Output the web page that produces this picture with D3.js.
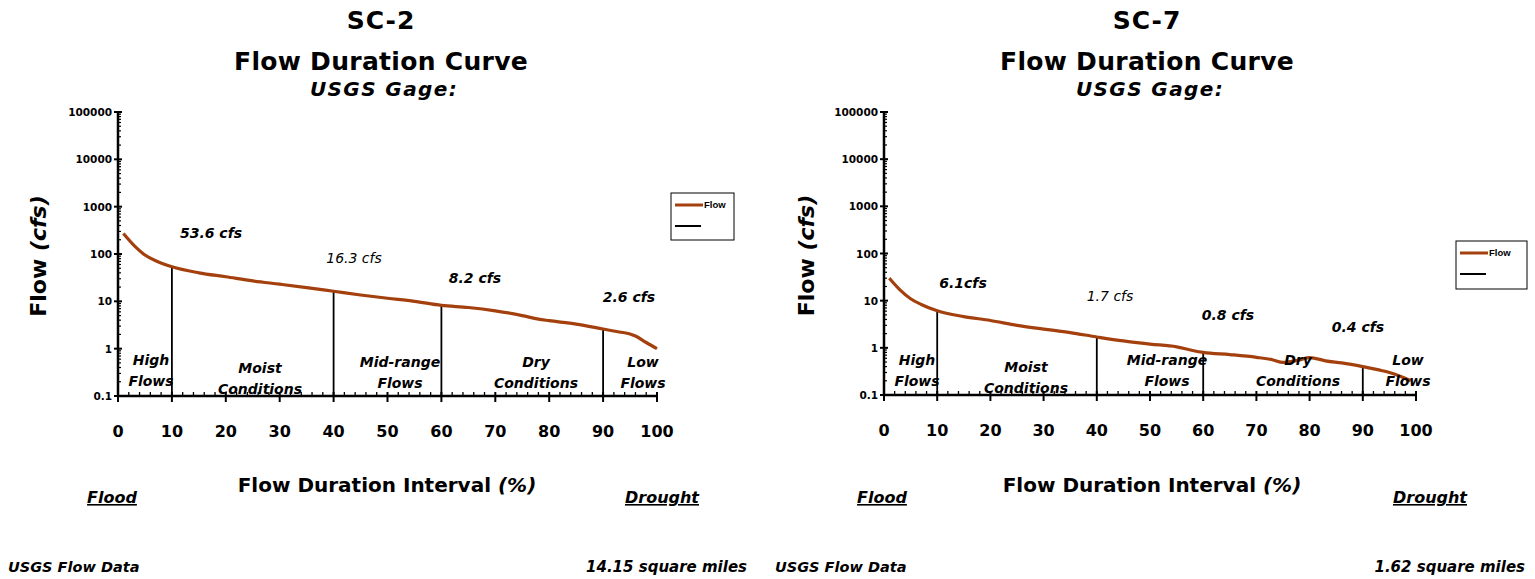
<!DOCTYPE html>
<html>
<head>
<meta charset="utf-8">
<script src="https://cdn.jsdelivr.net/npm/d3@7"></script>
<style>
  html, body { margin: 0; padding: 0; background: #fff; }
  svg { display: block; }
  text { font-family: "Comic Sans MS", "DejaVu Sans", sans-serif; fill: #000; }
  .legend-text { font-family: "Liberation Sans", Arial, sans-serif; }
</style>
</head>
<body>
<svg id="chart" width="1535" height="579"></svg>
<script>
// Flow duration percentiles (% of time flow is equalled or exceeded)
const sc2Pct  = [1, 3, 5, 7, 10, 15, 20, 25, 30, 35, 40, 45, 50, 55, 60, 65, 70, 75, 78, 80, 85, 90, 93, 95, 96, 98, 100];
const sc2Flow = [270, 150, 95, 72, 53.6, 40, 33, 27, 23, 19.5, 16.3, 13.6, 11.6, 10, 8.2, 7.4, 6.3, 5.0, 4.2, 3.9, 3.3, 2.6, 2.25, 2.05, 1.85, 1.35, 1.0];

const sc7Pct  = [1, 3, 5, 7, 10, 15, 20, 25, 30, 35, 40, 45, 50, 55, 58, 60, 65, 70, 73, 75, 78, 80, 81, 83, 86, 90, 93, 95, 97, 99];
const sc7Flow = [30, 17, 11, 8.3, 6.1, 4.6, 3.8, 3.0, 2.5, 2.1, 1.7, 1.4, 1.2, 1.05, 0.88, 0.8, 0.72, 0.63, 0.56, 0.49, 0.55, 0.62, 0.6, 0.53, 0.48, 0.4, 0.34, 0.3, 0.25, 0.2];

// Hydrologic zone boundaries and the flow at each boundary
const zoneBreaks = [10, 40, 60, 90];
const sc2BreakFlow = [53.6, 16.3, 8.2, 2.6];
const sc7BreakFlow = [6.1, 1.7, 0.8, 0.4];
const sc2BreakLabels = ["53.6 cfs", "16.3 cfs", "8.2 cfs", "2.6 cfs"];
const sc7BreakLabels = ["6.1cfs", "1.7 cfs", "0.8 cfs", "0.4 cfs"];

const zoneNames = [["High", "Flows"], ["Moist", "Conditions"], ["Mid-range", "Flows"], ["Dry", "Conditions"], ["Low", "Flows"]];

const yTicks = [0.1, 1, 10, 100, 1000, 10000, 100000];
const xTicks = [0, 10, 20, 30, 40, 50, 60, 70, 80, 90, 100];

const svg = d3.select("#chart");
const curveColor = "#a3400d";

function drawChart(cfg) {
  const x = d3.scaleLinear().domain([0, 100]).range([cfg.x0, cfg.x1]);
  const y = d3.scaleLog().domain([0.1, 100000]).range([cfg.y0, cfg.y1]);
  const g = svg.append("g");

  // Titles
  const cx = cfg.titleX;
  g.append("text").attr("x", cx).attr("y", 29).attr("text-anchor", "middle")
    .attr("font-size", 25).attr("font-weight", "bold").attr("letter-spacing", 1).text(cfg.site);
  g.append("text").attr("x", cx).attr("y", 70).attr("text-anchor", "middle")
    .attr("font-size", 25).attr("font-weight", "bold").attr("letter-spacing", 0.3).text("Flow Duration Curve");
  g.append("text").attr("x", cx + 3).attr("y", 96).attr("text-anchor", "middle")
    .attr("font-size", 20).attr("font-weight", "bold").attr("font-style", "italic")
    .attr("letter-spacing", 1.4).text("USGS Gage:");

  // Y axis: log scale with decade labels and minor ticks
  g.append("line").attr("x1", x(0)).attr("x2", x(0)).attr("y1", y(0.1)).attr("y2", y(100000))
    .attr("stroke", "#000").attr("stroke-width", 2.5);
  const minor = [];
  for (let e = -1; e < 5; e++) for (let m = 2; m <= 9; m++) minor.push(m * Math.pow(10, e));
  g.selectAll(".ymin").data(minor).join("line")
    .attr("x1", x(0)).attr("x2", x(0) + 3)
    .attr("y1", d => y(d)).attr("y2", d => y(d))
    .attr("stroke", "#000").attr("stroke-width", 1.2);
  g.selectAll(".ymaj").data(yTicks).join("line")
    .attr("x1", x(0) - 4).attr("x2", x(0) + 4)
    .attr("y1", d => y(d)).attr("y2", d => y(d))
    .attr("stroke", "#000").attr("stroke-width", 2);
  g.selectAll(".ylab").data(yTicks).join("text")
    .attr("x", x(0) - 6).attr("y", d => y(d) + 4).attr("text-anchor", "end")
    .attr("font-size", 10.5).attr("font-weight", "bold").text(d => d3.format("")(d));

  // X axis with major ticks below and minor ticks above
  g.append("line").attr("x1", x(0)).attr("x2", x(100)).attr("y1", y(0.1)).attr("y2", y(0.1))
    .attr("stroke", "#000").attr("stroke-width", 2.5);
  const xMinor = d3.range(2, 100, 2).filter(d => d % 10 !== 0);
  g.selectAll(".xmin").data(xMinor).join("line")
    .attr("x1", d => x(d)).attr("x2", d => x(d))
    .attr("y1", y(0.1)).attr("y2", y(0.1) - 4)
    .attr("stroke", "#000").attr("stroke-width", 1.3);
  g.selectAll(".xmaj").data(xTicks).join("line")
    .attr("x1", d => x(d)).attr("x2", d => x(d))
    .attr("y1", y(0.1) - 4).attr("y2", y(0.1) + 6)
    .attr("stroke", "#000").attr("stroke-width", 2);
  g.selectAll(".xlab").data(xTicks).join("text")
    .attr("x", d => x(d)).attr("y", y(0.1) + 41).attr("text-anchor", "middle")
    .attr("font-size", 16).attr("font-weight", "bold").text(d => d);

  // Zone boundary lines from the axis up to the curve
  g.selectAll(".brk").data(zoneBreaks).join("line")
    .attr("x1", d => x(d)).attr("x2", d => x(d))
    .attr("y1", y(0.1)).attr("y2", (d, i) => y(cfg.breakFlow[i]))
    .attr("stroke", "#000").attr("stroke-width", 1.8);

  // Flow duration curve
  const line = d3.line().x(d => x(d[0])).y(d => y(d[1])).curve(d3.curveMonotoneX);
  g.append("path").datum(d3.zip(cfg.pct, cfg.flow)).attr("d", line)
    .attr("fill", "none").attr("stroke", curveColor).attr("stroke-width", 3.2)
    .attr("stroke-linejoin", "round");

  // Boundary flow labels
  cfg.breakLabels.forEach((t, i) => {
    g.append("text").attr("x", cfg.labelPos[i][0]).attr("y", cfg.labelPos[i][1])
      .attr("text-anchor", "middle").attr("font-size", 14)
      .attr("font-weight", i === 1 ? "normal" : "bold").attr("font-style", "italic").text(t);
  });

  // Zone names
  zoneNames.forEach((nm, i) => {
    const p = cfg.zonePos[i];
    nm.forEach((w, j) => {
      g.append("text").attr("x", p[0]).attr("y", p[1] + j * 21)
        .attr("text-anchor", "middle").attr("font-size", 14)
        .attr("font-weight", "bold").attr("font-style", "italic").text(w);
    });
  });

  // Axis titles
  g.append("text").attr("transform", `translate(${cfg.yTitleX},${(y(0.1) + y(100000)) / 2 + 2}) rotate(-90)`)
    .attr("text-anchor", "middle").attr("font-size", 22).attr("font-weight", "bold")
    .html('Flow <tspan font-style="italic">(cfs)</tspan>');
  g.append("text").attr("x", cfg.xTitleX).attr("y", 492).attr("text-anchor", "middle")
    .attr("font-size", 20).attr("font-weight", "bold")
    .html('Flow Duration Interval <tspan font-style="italic">(%)</tspan>');

  // Flood / Drought markers
  [[cfg.floodX, "Flood"], [cfg.droughtX, "Drought"]].forEach(([px, t]) => {
    g.append("text").attr("x", px).attr("y", 503).attr("text-anchor", "middle")
      .attr("font-size", 16).attr("font-weight", "bold").attr("font-style", "italic")
      .attr("text-decoration", "underline").text(t);
  });

  // Footer notes
  g.append("text").attr("x", cfg.footL).attr("y", 572).attr("font-size", 14.5)
    .attr("font-weight", "bold").attr("font-style", "italic").text("USGS Flow Data");
  g.append("text").attr("x", cfg.footR).attr("y", 572).attr("text-anchor", "end").attr("font-size", 15)
    .attr("font-weight", "bold").attr("font-style", "italic").text(cfg.area);

  // Legend
  const L = cfg.legend;
  g.append("rect").attr("x", L[0]).attr("y", L[1]).attr("width", L[2]).attr("height", L[3])
    .attr("fill", "#fff").attr("stroke", "#000").attr("stroke-width", 1);
  g.append("line").attr("x1", L[0] + 4).attr("x2", L[0] + 32).attr("y1", L[1] + 12).attr("y2", L[1] + 12)
    .attr("stroke", curveColor).attr("stroke-width", 3);
  g.append("text").attr("class", "legend-text").attr("x", L[0] + 33).attr("y", L[1] + 15)
    .attr("font-size", 9.5).attr("font-weight", "bold").text("Flow");
  g.append("line").attr("x1", L[0] + 4).attr("x2", L[0] + 30).attr("y1", L[1] + 33).attr("y2", L[1] + 33)
    .attr("stroke", "#000").attr("stroke-width", 2);
}

drawChart({
  site: "SC-2", area: "14.15 square miles",
  pct: sc2Pct, flow: sc2Flow, breakFlow: sc2BreakFlow, breakLabels: sc2BreakLabels,
  x0: 118, x1: 657, y0: 396, y1: 112,
  titleX: 381, yTitleX: 46, xTitleX: 387, floodX: 112, droughtX: 662,
  footL: 8, footR: 747,
  labelPos: [[211, 238], [354, 263], [475, 283], [629, 302]],
  zonePos: [[151, 365], [260, 373], [400, 367], [536, 367], [643, 367]],
  legend: [671, 193, 63, 47]
});

drawChart({
  site: "SC-7", area: "1.62 square miles",
  pct: sc7Pct, flow: sc7Flow, breakFlow: sc7BreakFlow, breakLabels: sc7BreakLabels,
  x0: 884, x1: 1416, y0: 395, y1: 112,
  titleX: 1147, yTitleX: 814, xTitleX: 1152, floodX: 882, droughtX: 1430,
  footL: 775, footR: 1525,
  labelPos: [[963, 288], [1110, 301], [1228, 320], [1358, 332]],
  zonePos: [[917, 365], [1026, 372], [1167, 365], [1298, 365], [1408, 365]],
  legend: [1456, 241, 71, 48]
});
</script>
</body>
</html>
